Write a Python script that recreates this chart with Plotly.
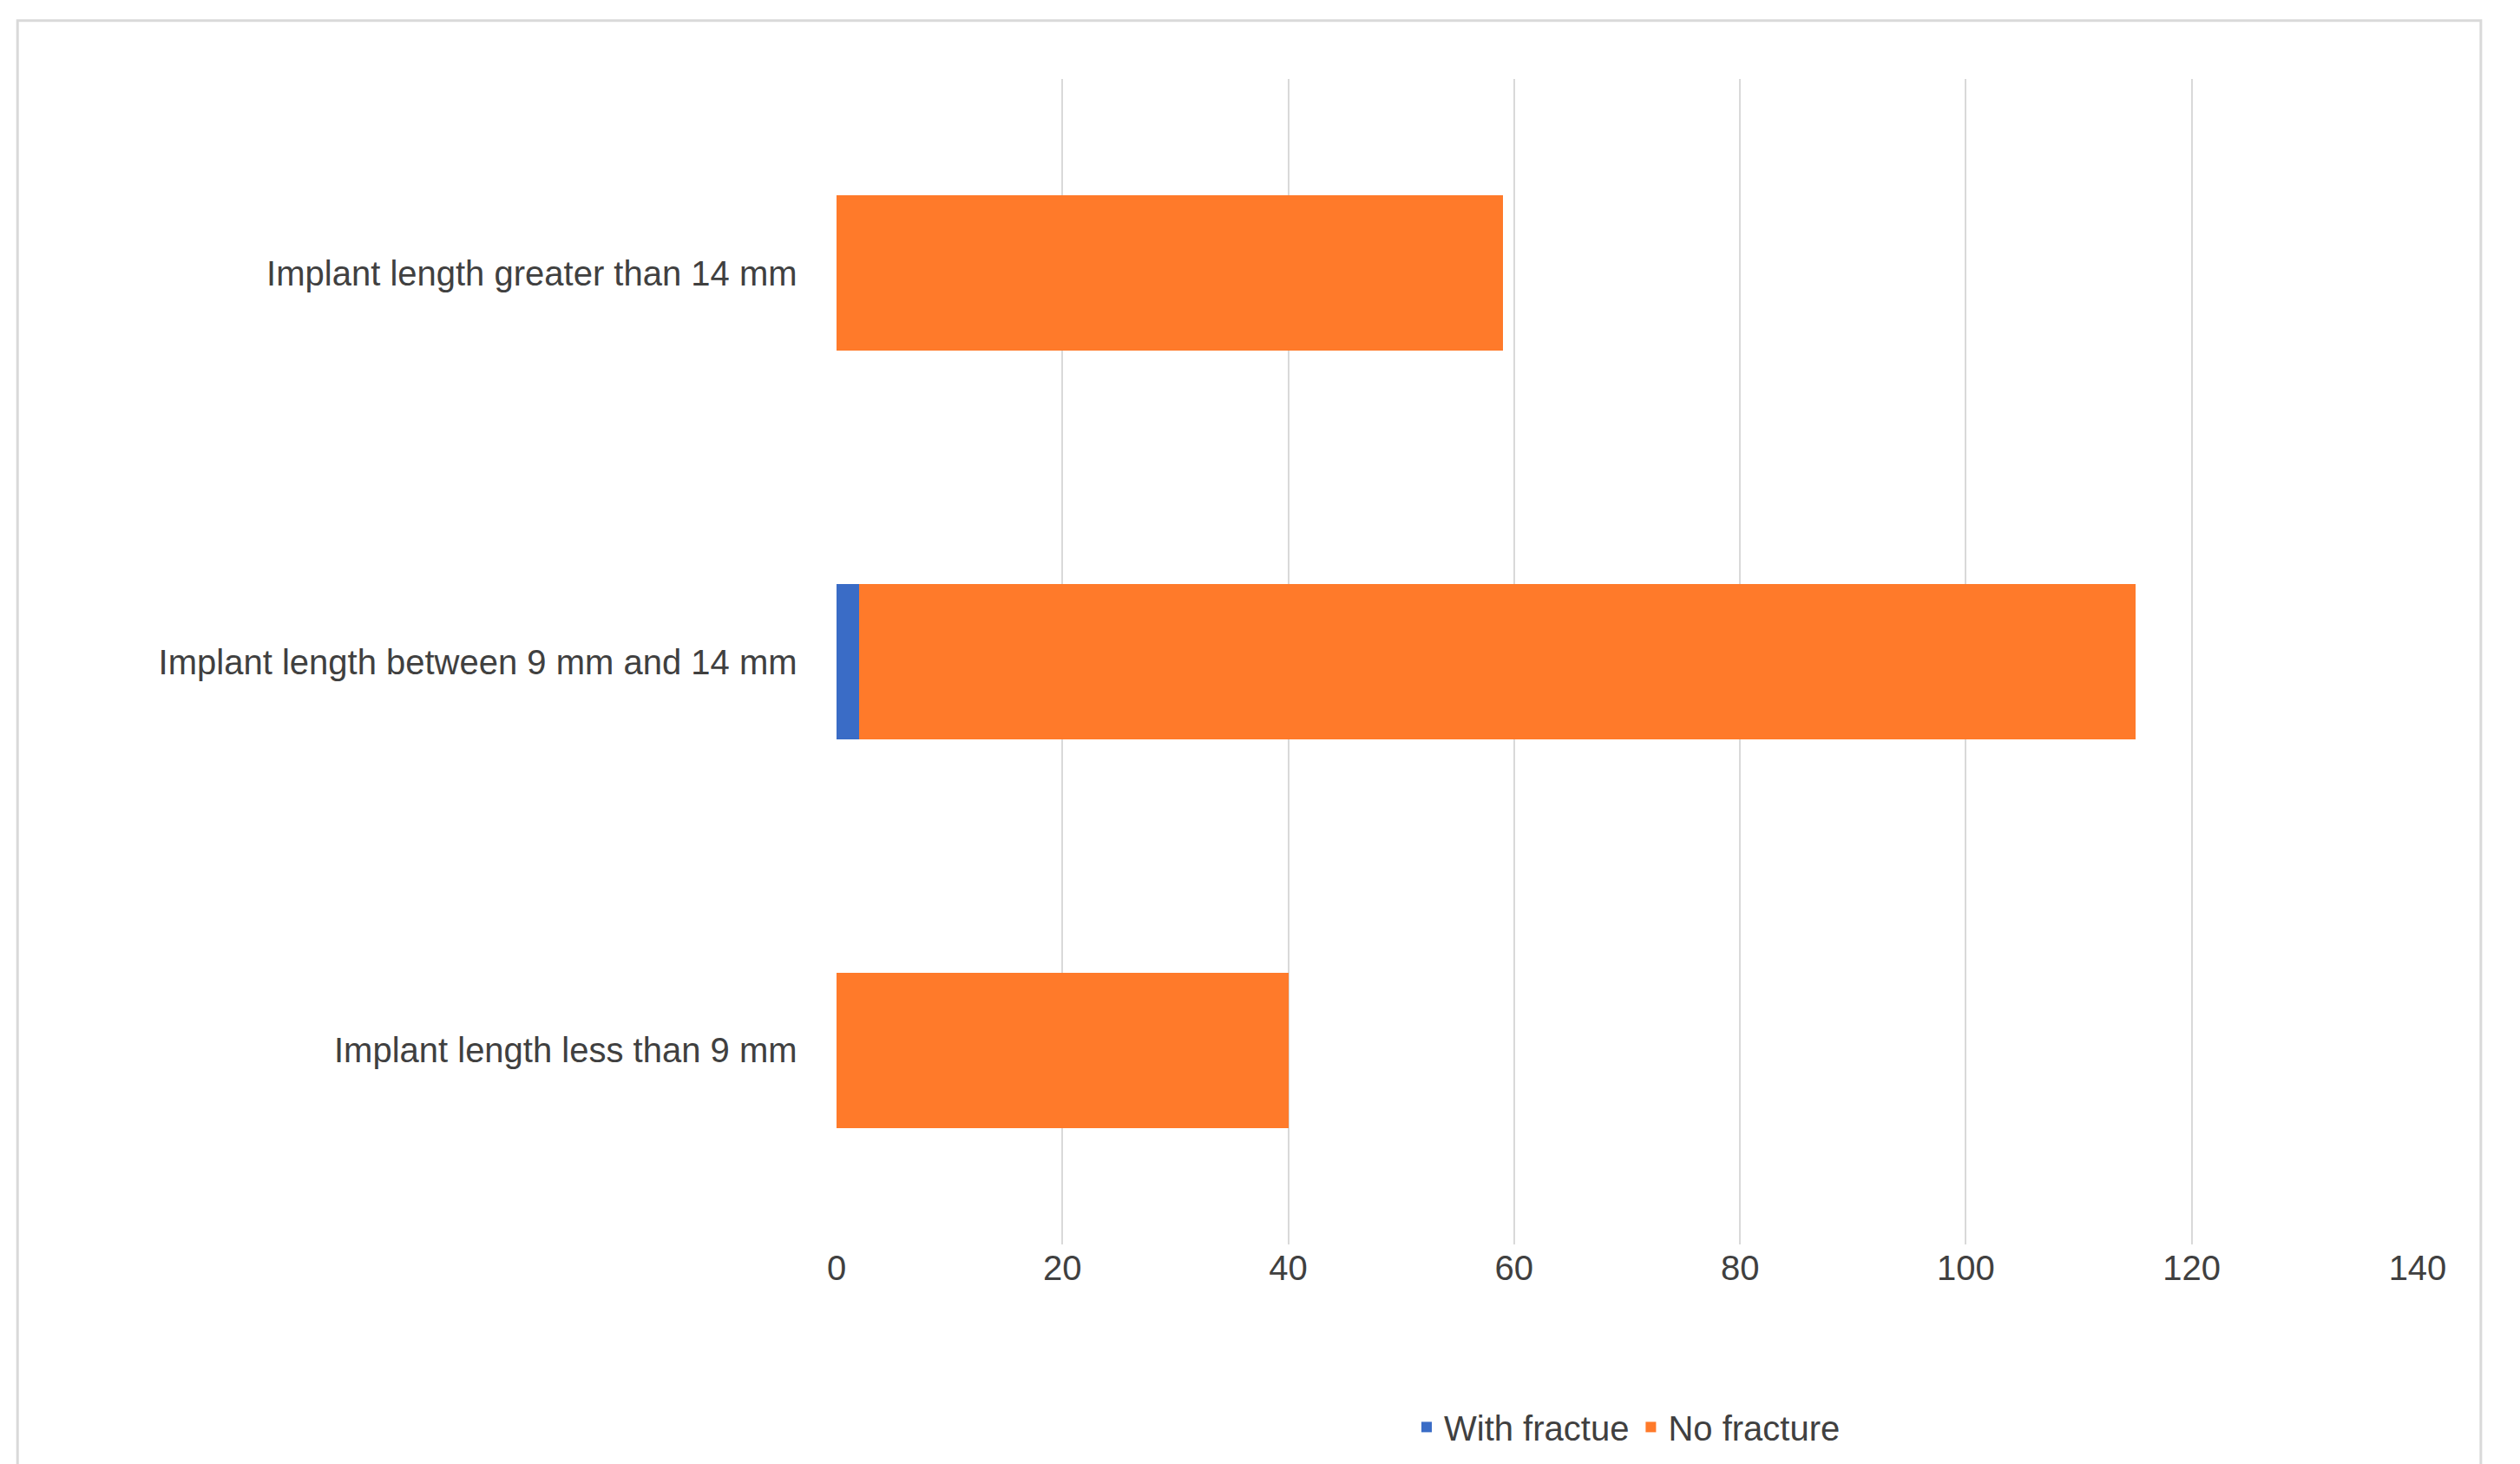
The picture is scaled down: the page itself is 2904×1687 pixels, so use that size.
import plotly.graph_objects as go

categories = ["Implant length less than 9 mm", "Implant length between 9 mm and 14 mm", "Implant length greater than 14 mm"]
with_fracture = [0, 2, 0]
no_fracture = [40, 113, 59]
tick_vals = [0, 20, 40, 60, 80, 100, 120, 140]

fig = go.Figure()
fig.add_trace(go.Bar(y=categories, x=with_fracture, orientation="h", name="With fractue",
                     marker=dict(color="#3A6CC6", line=dict(width=0))))
fig.add_trace(go.Bar(y=categories, x=no_fracture, orientation="h", name="No fracture",
                     marker=dict(color="#FF7A2A", line=dict(width=0))))
fig.update_layout(
    barmode="stack", bargap=0.6,
    width=2904, height=1687, paper_bgcolor="white", plot_bgcolor="white",
    margin=dict(l=956, r=126, t=83, b=261),
    font=dict(family="Liberation Sans, Arial", size=40, color="#404040"),
    xaxis=dict(range=[0, 140], tickvals=tick_vals, showgrid=True, gridcolor="#D9D9D9", gridwidth=2,
               zeroline=False, showline=False, ticks="", tickfont=dict(size=40, color="#404040")),
    yaxis=dict(showgrid=False, ticks="", ticksuffix="    ", tickfont=dict(size=40, color="#404040")),
    legend=dict(orientation="h", x=0.5, xanchor="center", y=0.03, yanchor="middle", yref="container",
                font=dict(size=40, color="#404040"), traceorder="normal"),
    shapes=[dict(type="rect", xref="paper", yref="paper", x0=-0.5, x1=1.0, y0=0, y1=1,
                 line=dict(width=0))] ,
)
fig.add_shape(type="rect", xref="x domain", yref="y domain", x0=-0.518, x1=1.04, y0=-0.30, y1=1.05,
              line=dict(color="#D9D9D9", width=3), layer="below")
fig.write_html("out.html")
